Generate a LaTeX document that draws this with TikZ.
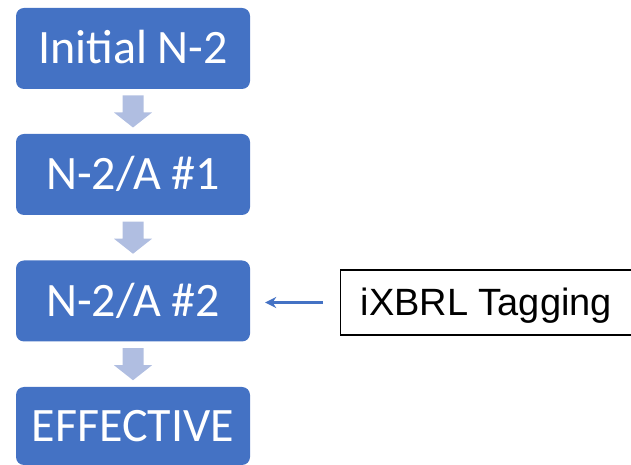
\documentclass[tikz,border=0pt]{standalone}
\usepackage{fontspec}
\setmainfont{Carlito}
\newfontfamily\arialfont{Liberation Sans}
\usetikzlibrary{arrows.meta,calc}
\definecolor{stepblue}{HTML}{4472C4}
\definecolor{arrowlight}{HTML}{B0BEE1}
\tikzset{
  stepbox/.style={fill=stepblue, rounded corners=8pt, minimum width=234pt, minimum height=81pt, inner sep=0pt, text height=31pt, text depth=0pt, text=white, font=\fontsize{48}{48}\selectfont},
  tagbox/.style={draw=black, line width=1.2pt, fill=white, minimum width=300pt, minimum height=65pt, inner sep=0pt, text height=27pt, text depth=0pt, anchor=west},
  thinarrow/.style={draw=stepblue, line width=2.2pt, -{Stealth[length=11pt,width=11pt]}},
}
\newcommand{\blockarrow}[2]{%
  \path let \p1=($(#1.south)!0.5!(#2.north)$) in
    [fill=arrowlight] (\x1-10.5pt,\y1+16pt) -- (\x1+10.5pt,\y1+16pt) -- (\x1+10.5pt,\y1-1pt)
    -- (\x1+19pt,\y1-1pt) -- (\x1,\y1-16pt) -- (\x1-19pt,\y1-1pt) -- (\x1-10.5pt,\y1-1pt) -- cycle;}
\begin{document}
\begin{tikzpicture}[x=1pt,y=1pt]
\useasboundingbox (0,0) rectangle (631,465);
\clip (0,0) rectangle (631,465);
\node[stepbox] (b1) at (133,416.5) {Initial N-2};
\node[stepbox] (b2) at (133,290.5) {N-2/A \#1};
\node[stepbox] (b3) at (133,164) {N-2/A \#2};
\node[stepbox, minimum height=78pt] (b4) at (133,39) {EFFECTIVE};
\blockarrow{b1}{b2}
\blockarrow{b2}{b3}
\blockarrow{b3}{b4}
\node[tagbox] (tag) at (340,162.5) {\hspace*{20pt}\arialfont\fontsize{38}{38}\selectfont iXBRL Tagging\hspace*{60pt}};
\draw[thinarrow, shorten <=17pt, shorten >=15pt] (tag.west) -- (b3.east |- tag.west);
\end{tikzpicture}
\end{document}
